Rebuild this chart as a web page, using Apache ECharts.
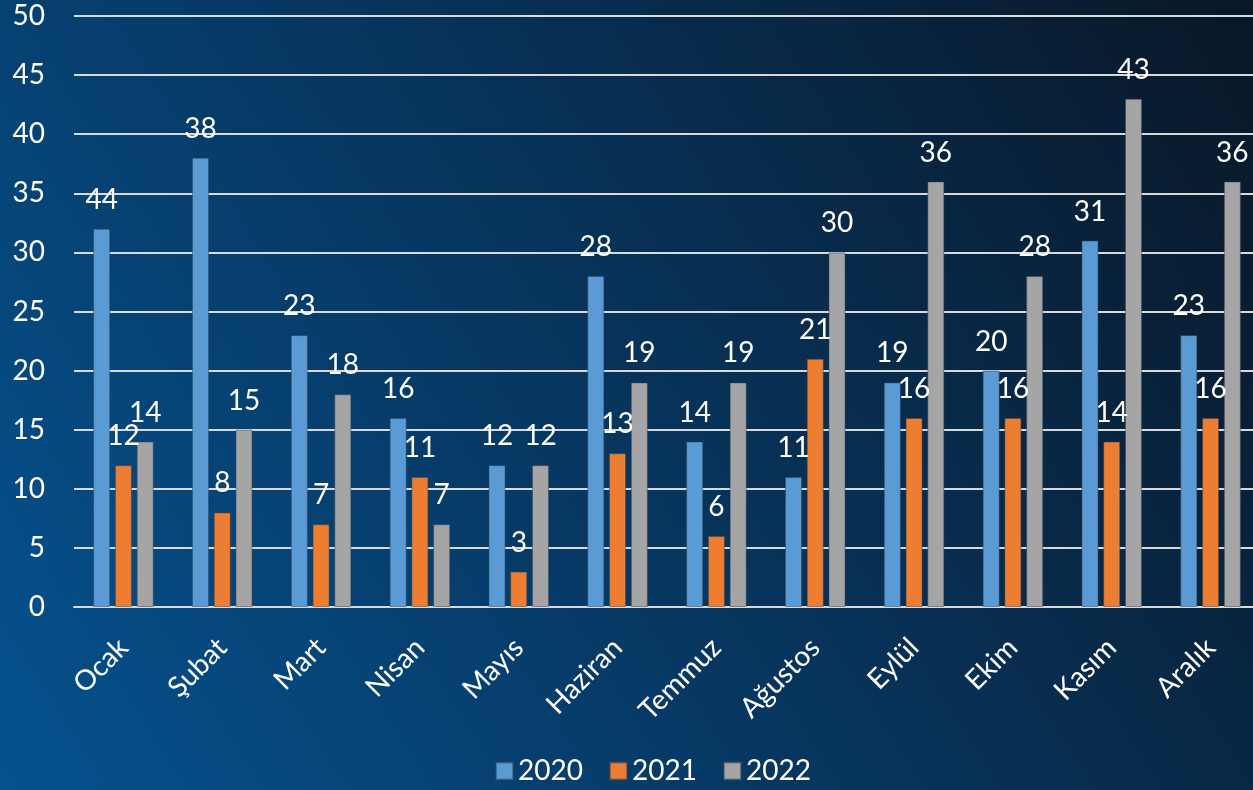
<!DOCTYPE html>
<html>
<head>
<meta charset="utf-8">
<script src="https://cdn.jsdelivr.net/npm/echarts@6/dist/echarts.min.js"></script>
<style>
  html, body { margin: 0; padding: 0; }
  #chart { width: 1253px; height: 790px; }
</style>
</head>
<body>
<div id="chart"></div>
<script>
var months = ['Ocak', 'Şubat', 'Mart', 'Nisan', 'Mayıs', 'Haziran', 'Temmuz', 'Ağustos', 'Eylül', 'Ekim', 'Kasım', 'Aralık'];
var years = ['2020', '2021', '2022'];
var values2020 = [32, 38, 23, 16, 12, 28, 14, 11, 19, 20, 31, 23];
var values2021 = [12, 8, 7, 11, 3, 13, 6, 21, 16, 16, 14, 16];
var values2022 = [14, 15, 18, 7, 12, 19, 19, 30, 36, 28, 43, 36];
// etiketler: Ocak 2020 çubuğu 32 ama etiketi 44 yazıyor
var labels2020 = ['44', '38', '23', '16', '12', '28', '14', '11', '19', '20', '31', '23'];
var yTicks = [0, 50, 5];

var colors = ['#5b9bd5', '#ed7d31', '#a5a5a5'];
var font = 'Lato, "Open Sans", sans-serif';
var fs = 28;

var chart = echarts.init(document.getElementById('chart'));

function makeSeries(name, values, color, labels) {
    return {
        name: name,
        type: 'bar',
        data: values,
        barWidth: 17,
        barGap: '28%',
        itemStyle: { color: color, borderColor: 'rgba(60,70,90,0.5)', borderWidth: 1 },
        label: {
            show: true,
            position: 'top',
            distance: 15,
            color: '#ffffff',
            fontFamily: font,
            fontSize: fs,
            formatter: function (p) {
                return labels ? labels[p.dataIndex] : p.value;
            }
        }
    };
}

chart.setOption({
    backgroundColor: new echarts.graphic.LinearGradient(0, 1, 1, 0, [
        { offset: 0, color: '#05528f' },
        { offset: 0.5, color: '#07345c' },
        { offset: 1, color: '#091727' }
    ]),
    animation: false,
    color: colors,
    grid: { left: 74, right: -7, top: 16, bottom: 183, containLabel: false, outerBoundsMode: 'none' },
    legend: {
        bottom: 0,
        left: 490,
        itemWidth: 17,
        itemHeight: 17,
        itemGap: 26,
        icon: 'rect',
        textStyle: { color: '#ffffff', fontFamily: font, fontSize: fs },
        data: years
    },
    xAxis: {
        type: 'category',
        data: months,
        axisTick: { show: false },
        axisLine: { lineStyle: { color: '#d9d9d9', width: 2 } },
        axisLabel: {
            rotate: 45,
            interval: 0,
            margin: 36,
            color: '#ffffff',
            fontFamily: font,
            fontSize: fs
        }
    },
    yAxis: {
        type: 'value',
        min: yTicks[0],
        max: yTicks[1],
        interval: yTicks[2],
        axisLine: { show: false },
        axisTick: { show: false },
        splitLine: { lineStyle: { color: '#d9d9d9', width: 2 } },
        axisLabel: {
            margin: 29,
            color: '#ffffff',
            fontFamily: font,
            fontSize: fs
        }
    },
    series: [
        makeSeries(years[0], values2020, colors[0], labels2020),
        makeSeries(years[1], values2021, colors[1]),
        makeSeries(years[2], values2022, colors[2])
    ]
});
</script>
</body>
</html>
